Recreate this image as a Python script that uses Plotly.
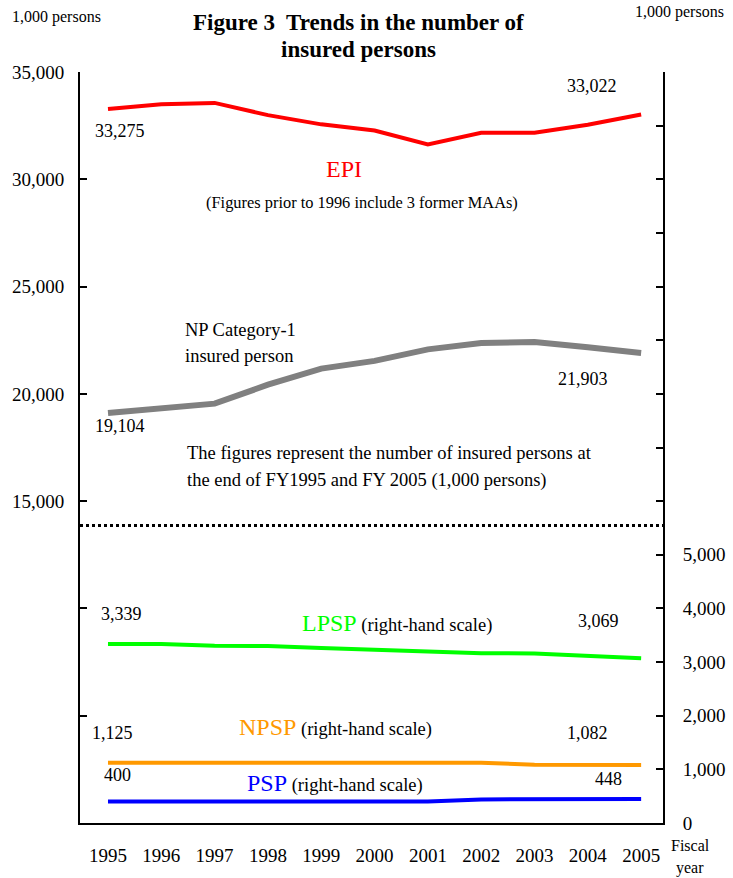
import plotly.graph_objects as go

years = [1995, 1996, 1997, 1998, 1999, 2000, 2001, 2002, 2003, 2004, 2005]
epi = [33275, 33500, 33560, 32990, 32560, 32270, 31620, 32170, 32170, 32540, 33022]
np1 = [19104, 19356, 19545, 20426, 21175, 21537, 22074, 22368, 22420, 22170, 21903]
lpsp = [3339, 3339, 3305, 3300, 3260, 3230, 3200, 3165, 3160, 3120, 3069]
npsp = [1125, 1125, 1125, 1125, 1125, 1125, 1125, 1125, 1085, 1083, 1082]
psp = [400, 400, 400, 400, 400, 400, 400, 440, 445, 447, 448]

left_tickvals = [0, 5000, 10000, 15000, 20000, 25000, 30000, 35000]
left_ticktext = ["", "", "", "15,000", "20,000", "25,000", "30,000", "35,000"]
right_tickvals = list(range(0, 15000, 1000))
right_ticktext = ["0", "1,000", "2,000", "3,000", "4,000", "5,000"] + [""] * 9
break_level = 13870  # dotted separator, left scale

FONT = "Liberation Serif"
W, H = 733, 878
L, R, T, B = 80, 70, 72, 55
PW, PH = W - L - R, H - T - B


def px(x):
    return (x - L) / PW


def py(y):
    return (H - B - y) / PH


fig = go.Figure()
fig.add_trace(go.Scatter(x=years, y=epi, mode="lines", line=dict(color="#ff0000", width=4), yaxis="y"))
fig.add_trace(go.Scatter(x=years, y=np1, mode="lines", line=dict(color="#808080", width=6), yaxis="y"))
fig.add_trace(go.Scatter(x=years, y=lpsp, mode="lines", line=dict(color="#00ff00", width=4), yaxis="y2"))
fig.add_trace(go.Scatter(x=years, y=npsp, mode="lines", line=dict(color="#ff9900", width=4), yaxis="y2"))
fig.add_trace(go.Scatter(x=years, y=psp, mode="lines", line=dict(color="#0000ff", width=4), yaxis="y2"))

anns = []


def val_label(series, idx, yref, xs, ys):
    anns.append(dict(x=years[idx], y=series[idx], xref="x", yref=yref,
                     text=f"{series[idx]:,}", showarrow=False, xshift=xs, yshift=ys,
                     font=dict(family=FONT, size=18, color="black")))


val_label(epi, 0, "y", 12, -22)
val_label(epi, -1, "y", -49, 28)
val_label(np1, 0, "y", 12, -13)
val_label(np1, -1, "y", -58, -26)
val_label(lpsp, 0, "y2", 14, 30)
val_label(lpsp, -1, "y2", -43, 37)
val_label(npsp, 0, "y2", 5, 30)
val_label(npsp, -1, "y2", -54, 32)
val_label(psp, 0, "y2", 10, 27)
val_label(psp, -1, "y2", -33, 20)


def text(x, y, t, size=18.5, xanchor="left", color="black"):
    anns.append(dict(x=px(x), y=py(y), xref="paper", yref="paper", text=t, showarrow=False,
                     xanchor=xanchor, yanchor="middle", align="left",
                     font=dict(family=FONT, size=size, color=color)))


text(358, 23, "<b>Figure 3  Trends in the number of</b>", size=23, xanchor="center")
text(358, 50, "<b>insured persons</b>", size=23, xanchor="center")
text(10, 17, "1,000 persons", size=16)
text(633, 12, "1,000 persons", size=16)
text(344, 169, "EPI", size=24, xanchor="center", color="#ff0000")
text(362, 202, "(Figures prior to 1996 include 3 former MAAs)", size=16.4, xanchor="center")
text(183, 330, "NP Category-1")
text(183, 356, "insured person")
text(185, 453, "The figures represent the number of insured persons at")
text(185, 480, "the end of FY1995 and FY 2005 (1,000 persons)")
text(300, 623, "<span style='color:#00ff00;font-size:24px'>LPSP</span> (right-hand scale)")
text(237, 727, "<span style='color:#ff9900;font-size:24px'>NPSP</span> (right-hand scale)")
text(245, 783, "<span style='color:#0000ff;font-size:24px'>PSP</span> (right-hand scale)")
text(690, 845, "Fiscal", size=16, xanchor="center")
text(690, 868, "year", size=16, xanchor="center")

fig.add_shape(type="line", xref="paper", yref="y", x0=0, x1=1, y0=break_level, y1=break_level,
              line=dict(color="black", width=3, dash="dot"))

fig.update_layout(
    width=W, height=H,
    margin=dict(l=L, r=R, t=T, b=B, autoexpand=False),
    paper_bgcolor="white", plot_bgcolor="white",
    showlegend=False,
    annotations=anns,
    font=dict(family=FONT, size=18, color="black"),
    xaxis=dict(range=[1994.475, 2005.41], tickvals=years, ticktext=[str(y) for y in years],
               showline=True, linecolor="black", linewidth=2, ticks="", showgrid=False,
               zeroline=False, tickfont=dict(family=FONT, size=19), ticklabelstandoff=14),
    yaxis=dict(range=[0, 35000], tickvals=left_tickvals, ticktext=left_ticktext,
               showline=True, linecolor="black", linewidth=2, ticks="inside", ticklen=7,
               tickcolor="black", tickwidth=2, showgrid=False, zeroline=False,
               tickfont=dict(family=FONT, size=19), ticklabelstandoff=10),
    yaxis2=dict(range=[0, 14000], tickvals=right_tickvals, ticktext=right_ticktext,
                overlaying="y", side="right",
                showline=True, linecolor="black", linewidth=2, ticks="inside", ticklen=7,
                tickcolor="black", tickwidth=2, showgrid=False, zeroline=False,
                tickfont=dict(family=FONT, size=19), ticklabelstandoff=14),
)

fig.write_html("out.html", config={"displayModeBar": False},
               post_script="document.body.style.margin='0';document.body.style.overflow='hidden';")
